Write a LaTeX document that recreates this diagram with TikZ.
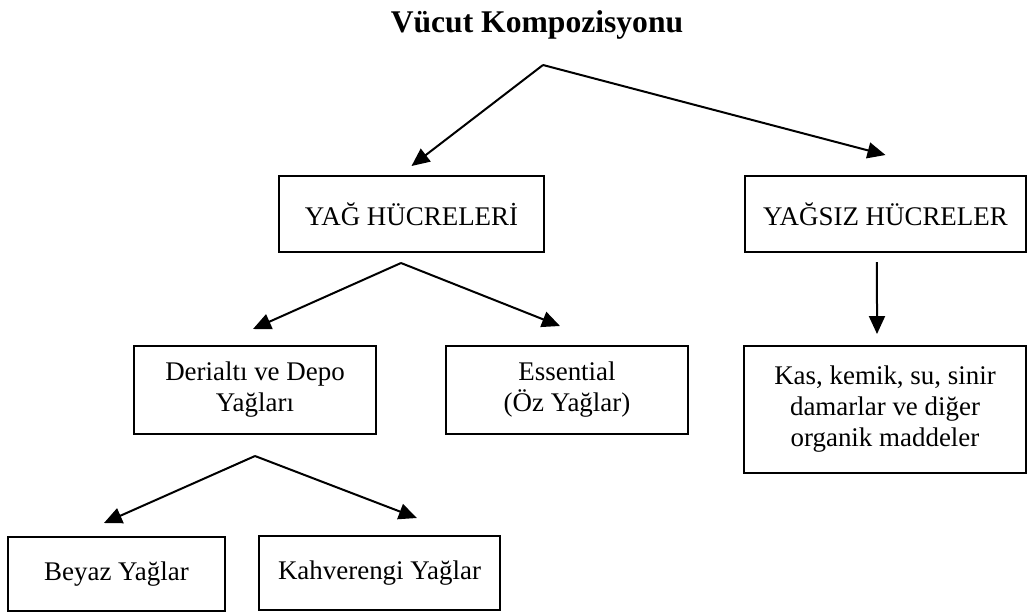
\documentclass[tikz,border=0pt]{standalone}
\usepackage{fontspec}
\setmainfont{Liberation Serif}
\usepackage{xcolor}
\usepackage{tikz}
\usetikzlibrary{arrows.meta}

\tikzset{
    kutu/.style={draw,line width=1.5pt,align=center,inner sep=0pt,
        font=\fontsize{20.2pt}{23.25pt}\selectfont},
    ok/.style={line width=1.5pt,-{Triangle[length=13.5pt,width=12pt]}}
}

\begin{document}
\begin{tikzpicture}[x=0.75pt,y=-0.75pt]
    \useasboundingbox (0,0) rectangle (1027,612);
    \node[anchor=base,font=\fontsize{23.7pt}{28pt}\selectfont\bfseries] (baslik) at (537,32) {Vücut Kompozisyonu};
    \node[kutu,minimum width=198.75pt,minimum height=57pt] (yag) at (411.5,214) {YAĞ HÜCRELERİ};
    \node[kutu,minimum width=210.75pt,minimum height=57pt] (yagsiz) at (885.5,214) {YAĞSIZ HÜCRELER};
    \node[kutu,minimum width=181.5pt,minimum height=66pt] (derialti) at (255,390) {Derialtı ve Depo\\Yağları};
    \node[kutu,minimum width=181.5pt,minimum height=66pt] (esansiyel) at (567,390) {Essential\\(Öz Yağlar)};
    \node[kutu,minimum width=211.5pt,minimum height=95.25pt] (kas) at (885,409.5) {Kas, kemik, su, sinir\\damarlar ve diğer\\organik maddeler};
    \node[kutu,minimum width=162.75pt,minimum height=55.5pt] (beyaz) at (116.5,574) {Beyaz Yağlar};
    \node[kutu,minimum width=180.75pt,minimum height=55.5pt] (kahve) at (379.5,573) {Kahverengi Yağlar};
    \coordinate (t1) at (543,65);
    \coordinate (t2) at (401,263);
    \coordinate (t3) at (255,456);
    \draw[ok] (t1) -- ([yshift=6.75pt]yag.north);
    \draw[ok] (t1) -- ([yshift=15pt]yagsiz.north);
    \draw[ok] (t2) -- ([xshift=-1.5pt,yshift=12pt]derialti.north);
    \draw[ok] (t2) -- ([xshift=-5.25pt,yshift=14.25pt]esansiyel.north);
    \draw[ok] (t3) -- ([xshift=-9.4pt,yshift=9.75pt]beyaz.north);
    \draw[ok] (t3) -- ([xshift=28pt,yshift=12.75pt]kahve.north);
    \draw[ok] ([xshift=-6.4pt,yshift=-6.75pt]yagsiz.south) -- ([xshift=-6pt,yshift=8.25pt]kas.north);
\end{tikzpicture}
\end{document}
